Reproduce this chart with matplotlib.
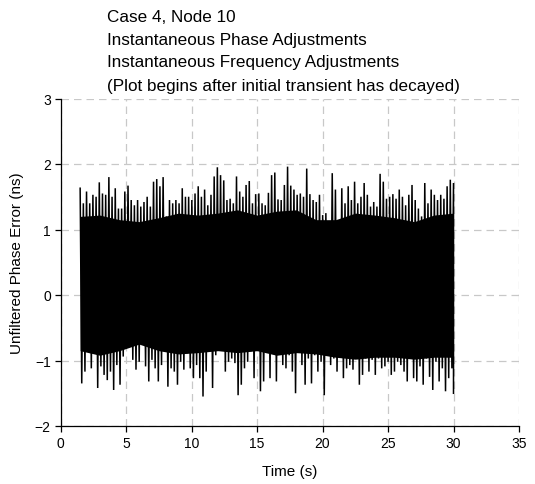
import numpy as np
import matplotlib
matplotlib.use("Agg")
import matplotlib.pyplot as plt

plt.rcParams['font.family'] = ['Liberation Sans', 'DejaVu Sans']

# Upper peaks of the phase-error trace (ns), read left to right
upper_peaks = [
    1.63, 1.40, 1.58, 1.40, 1.53, 1.50, 1.72, 1.55, 1.53, 1.80,
    1.50, 1.63, 1.32, 1.32, 1.58, 1.67, 1.45, 1.37, 1.45, 1.35,
    1.42, 1.50, 1.35, 1.73, 1.77, 1.66, 1.80, 1.20, 1.45, 1.40,
    1.45, 1.40, 1.63, 1.50, 1.50, 1.45, 1.55, 1.66, 1.50, 1.61,
    1.37, 1.53, 1.81, 1.95, 1.83, 1.75, 1.45, 1.47, 1.40, 1.81,
    1.58, 1.50, 1.68, 1.74, 1.40, 1.54, 1.55, 1.40, 1.37, 1.56,
    1.83, 1.87, 1.46, 1.45, 1.68, 1.96, 1.67, 1.61, 1.53, 1.55,
    1.50, 1.93, 1.54, 1.45, 1.42, 1.53, 1.22, 1.25, 1.10, 1.86,
    1.61,
    1.07, 1.63, 1.40, 1.66, 1.45, 1.73, 1.40, 1.50, 1.71, 1.53,
    1.35, 1.42, 1.35, 1.85, 1.73, 1.47, 1.50, 1.54, 1.47, 1.61,
    1.50, 1.37, 1.53, 1.68, 1.45, 1.32, 1.20, 1.71, 1.40, 1.61,
    1.53, 1.45, 1.53, 1.47, 1.66, 1.76, 1.71,
]

# Lower peaks of the phase-error trace (ns), read left to right
lower_peaks = [
    -1.35, -1.17, -0.79, -1.12, -0.84, -1.42, -1.09, -1.22, -1.30, -1.17,
    -1.45, -1.07, -1.37, -0.94, -0.81, -0.64, -0.99, -1.14, -1.02, -0.71,
    -1.09, -1.32, -0.99, -1.12, -1.32, -1.07, -0.81, -1.40, -1.12, -1.17,
    -1.37, -1.02, -1.14, -0.89, -1.12, -1.27, -1.07, -1.27, -1.55, -1.17,
    -0.81, -1.42,
    -0.92, -0.81, -0.74, -1.17, -1.02, -0.97, -1.04, -1.53, -1.37, -1.12,
    -1.02, -0.86, -1.27, -0.66, -1.47, -1.32, -0.76, -1.27, -0.81, -1.32,
    -0.66, -1.07, -1.12, -0.92, -1.17, -1.50, -0.71, -1.07, -1.37, -0.97,
    -1.35, -0.92, -1.17, -1.02, -1.53, -0.81, -1.07, -0.97, -1.17, -0.74,
    -1.27, -1.12, -1.07,
    -1.14, -0.92, -1.37, -1.22, -0.97, -1.17, -0.99, -1.22, -0.97, -1.12,
    -1.09, -1.02, -1.22, -1.17, -1.02, -1.07, -1.17, -1.32, -0.71, -1.27,
    -1.32, -1.09, -1.37, -0.97, -1.25, -1.45, -1.02, -1.32, -1.12, -1.47,
    -1.27, -1.12, -1.50,
]

# Limits of the solid (densely overlapping) core of the trace, read left to right
core_top = [1.20, 1.22, 1.15, 1.12, 1.18, 1.25, 1.22, 1.25, 1.30, 1.22,
            1.28, 1.30, 1.15, 1.15, 1.25, 1.22, 1.18, 1.12, 1.22, 1.25]
core_bottom = [-0.85, -0.92, -0.85, -0.75, -0.85, -0.90, -0.88, -0.85, -0.88, -0.85,
               -0.92, -0.88, -0.90, -0.95, -0.98, -0.95, -0.95, -0.98, -0.95, -0.95]

t_start, t_end = 1.5, 30.0

title_lines = [
    "Case 4, Node 10",
    "Instantaneous Phase Adjustments",
    "Instantaneous Frequency Adjustments",
    "(Plot begins after initial transient has decayed)",
]
x_ticks = [0, 5, 10, 15, 20, 25, 30, 35]
y_ticks = [-2, -1, 0, 1, 2, 3]

# Build the oscillating trace: upper and lower peaks alternate in time
n = len(upper_peaks)
t_up = np.linspace(t_start, t_end, n)
step = (t_end - t_start) / (n - 1)
t_lo = np.clip(t_up + step / 2, t_start, t_end)
t = np.empty(2 * n)
v = np.empty(2 * n)
t[0::2] = t_up
t[1::2] = t_lo
v[0::2] = upper_peaks
v[1::2] = lower_peaks
t_core = np.linspace(t_start, t_end, len(core_top))

W, H = 535, 485
fig = plt.figure(figsize=(W / 100, H / 100), dpi=100)
ax = fig.add_axes([60.5 / W, 1 - 427 / H, (519 - 60.5) / W, (427 - 99.5) / H])

ax.fill_between(t_core, core_bottom, core_top, color='black', linewidth=0)
ax.plot(t, v, color='black', linewidth=1.1, solid_joinstyle='miter')

ax.set_xlim(0, 35)
ax.set_ylim(-2, 3)
ax.set_xticks(x_ticks)
ax.set_yticks(y_ticks)
ax.grid(True, color='#c8c8c8', linestyle=(0, (6, 4)), linewidth=0.9)
ax.set_axisbelow(True)
for s in ['top', 'right']:
    ax.spines[s].set_visible(False)
for s in ['left', 'bottom']:
    ax.spines[s].set_linewidth(0.9)
ax.tick_params(direction='out', length=4, width=0.9, labelsize=10, pad=3)

ax.set_xlabel("Time (s)", fontsize=11, labelpad=10)
ax.set_ylabel("Unfiltered Phase Error (ns)", fontsize=11, labelpad=8)

for i, line in enumerate(title_lines):
    fig.text(107 / W, 1 - (17 + 23 * i) / H, line, ha='left', va='center',
             fontsize=12.3)

fig.savefig("out.png", dpi=100)
